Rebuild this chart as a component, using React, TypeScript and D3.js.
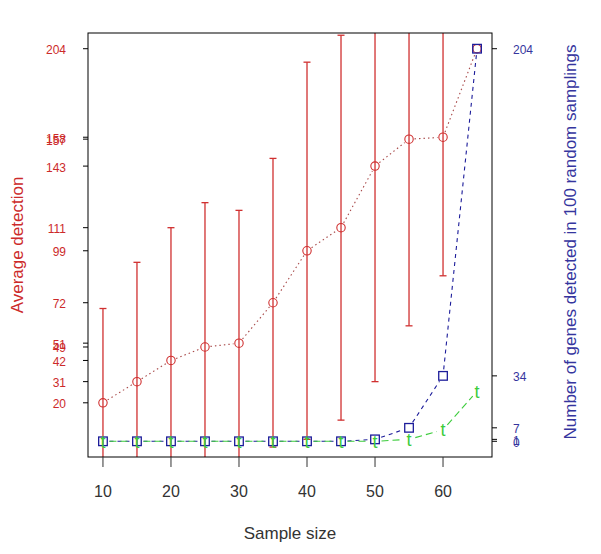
import React from "react";
import * as d3 from "d3";

const sampleSizes = [10, 15, 20, 25, 30, 35, 40, 45, 50, 55, 60, 65];
const avgDetection = [20, 31, 42, 49, 51, 72, 99, 111, 143, 157, 158, 204];
const sdDetection = [49, 62, 69, 75, 69, 75, 98, 100, 112, 97, 72, 0];
const genesDetected = [0, 0, 0, 0, 0, 0, 0, 0, 1, 7, 34, 204];
const genesAllSamplings = [0, 0, 0, 0, 0, 0, 0, 0, 0, 1, 6, 26];
const xTicks = [10, 20, 30, 40, 50, 60];
const leftTicks = [20, 31, 42, 49, 51, 72, 99, 111, 143, 157, 158, 204];
const rightTicks = [0, 1, 7, 34, 204];

const W = 601;
const H = 554;
const L = 88, R = 492, T = 33, B = 457;
const FONT = "'Liberation Sans', Arial, sans-serif";
const RED = "#d03030";
const RED_TXT = "#cc2a2a";
const BLUE = "#1c1c9a";
const BLUE_TXT = "#35359e";
const GREEN = "#3ccc3c";

function gapSegments(pts: [number, number][], gap: number) {
  const segs: [number, number, number, number][] = [];
  for (let i = 0; i < pts.length - 1; i++) {
    const [x1, y1] = pts[i];
    const [x2, y2] = pts[i + 1];
    const dx = x2 - x1, dy = y2 - y1;
    const len = Math.hypot(dx, dy);
    if (len <= 2 * gap) continue;
    const ux = dx / len, uy = dy / len;
    segs.push([x1 + ux * gap, y1 + uy * gap, x2 - ux * gap, y2 - uy * gap]);
  }
  return segs;
}

export default function App() {
  const x = d3.scaleLinear().domain([7.8, 67.2]).range([L, R]);
  const y = d3.scaleLinear().domain([-8.16, 212.16]).range([B, T]);

  const redPts = sampleSizes.map((s, i) => [x(s), y(avgDetection[i])] as [number, number]);
  const bluePts = sampleSizes.map((s, i) => [x(s), y(genesDetected[i])] as [number, number]);
  const greenPts = sampleSizes.map((s, i) => [x(s), y(genesAllSamplings[i])] as [number, number]);

  return (
    <svg width={W} height={H} style={{ position: "absolute", left: 0, top: 0, background: "#fff" }}
      fontFamily={FONT}>
      <defs>
        <clipPath id="plotclip">
          <rect x={L} y={T} width={R - L} height={B - T} />
        </clipPath>
      </defs>
      <rect x={0} y={0} width={W} height={H} fill="#fff" />

      <g clipPath="url(#plotclip)">
        {sampleSizes.map((s, i) => {
          const sd = sdDetection[i];
          if (!sd) return null;
          const cx = x(s);
          const y1 = y(avgDetection[i] + sd);
          const y2 = y(avgDetection[i] - sd);
          return (
            <g key={"eb" + i} stroke={RED} strokeWidth={1.3}>
              <line x1={cx} x2={cx} y1={y1} y2={y2} />
              <line x1={cx - 3.5} x2={cx + 3.5} y1={y1} y2={y1} />
              <line x1={cx - 3.5} x2={cx + 3.5} y1={y2} y2={y2} />
            </g>
          );
        })}
        {gapSegments(redPts, 5.5).map((sg, i) => (
          <line key={"rl" + i} x1={sg[0]} y1={sg[1]} x2={sg[2]} y2={sg[3]}
            stroke="#a84848" strokeWidth={1.1} strokeDasharray="1.5 3" />
        ))}
        {redPts.map((p, i) => (
          <circle key={"rc" + i} cx={p[0]} cy={p[1]} r={4.2} fill="none" stroke={RED} strokeWidth={1.1} />
        ))}
        {gapSegments(bluePts, 6.5).map((sg, i) => (
          <line key={"bl" + i} x1={sg[0]} y1={sg[1]} x2={sg[2]} y2={sg[3]}
            stroke={BLUE} strokeWidth={1.1} strokeDasharray="4 4" />
        ))}
        {bluePts.map((p, i) => (
          <rect key={"bs" + i} x={p[0] - 4.3} y={p[1] - 4.3} width={8.6} height={8.6}
            fill="none" stroke={BLUE} strokeWidth={1.3} />
        ))}
        {gapSegments(greenPts, 6.5).map((sg, i) => (
          <line key={"gl" + i} x1={sg[0]} y1={sg[1]} x2={sg[2]} y2={sg[3]}
            stroke={GREEN} strokeWidth={1.1} strokeDasharray="7 4" />
        ))}
        {greenPts.map((p, i) => (
          <text key={"gt" + i} x={p[0]} y={p[1] + 6.5} fill={GREEN} fontSize={18} textAnchor="middle">t</text>
        ))}
      </g>

      <rect x={L} y={T} width={R - L} height={B - T} fill="none" stroke="#000" strokeWidth={1} />

      {xTicks.map((t) => (
        <g key={"xt" + t}>
          <line x1={x(t)} x2={x(t)} y1={B} y2={B + 10} stroke="#333" strokeWidth={1} />
          <text x={x(t)} y={497} fontSize={16} textAnchor="middle" fill="#333">{t}</text>
        </g>
      ))}
      <text x={(L + R) / 2} y={539} fontSize={17} textAnchor="middle" fill="#333">Sample size</text>

      {leftTicks.map((t, i) => (
        <g key={"lt" + i}>
          <line x1={L - 5} x2={L} y1={y(t)} y2={y(t)} stroke="#000" strokeWidth={1} />
          <text x={66} y={y(t) + 5.5} fontSize={12} textAnchor="end" fill={RED_TXT}>{t}</text>
        </g>
      ))}
      <text transform={`translate(23,245) rotate(-90)`} fontSize={17} textAnchor="middle" fill={RED_TXT}>
        Average detection
      </text>

      {rightTicks.map((t, i) => (
        <g key={"rt" + i}>
          <line x1={R} x2={R + 5} y1={y(t)} y2={y(t)} stroke="#000" strokeWidth={1} />
          <text x={513} y={y(t) + 5.5} fontSize={12} textAnchor="start" fill={BLUE_TXT}>{t}</text>
        </g>
      ))}
      <text transform={`translate(576,242) rotate(-90)`} fontSize={17} textAnchor="middle" fill={BLUE_TXT}>
        Number of genes detected in 100 random samplings
      </text>
    </svg>
  );
}
